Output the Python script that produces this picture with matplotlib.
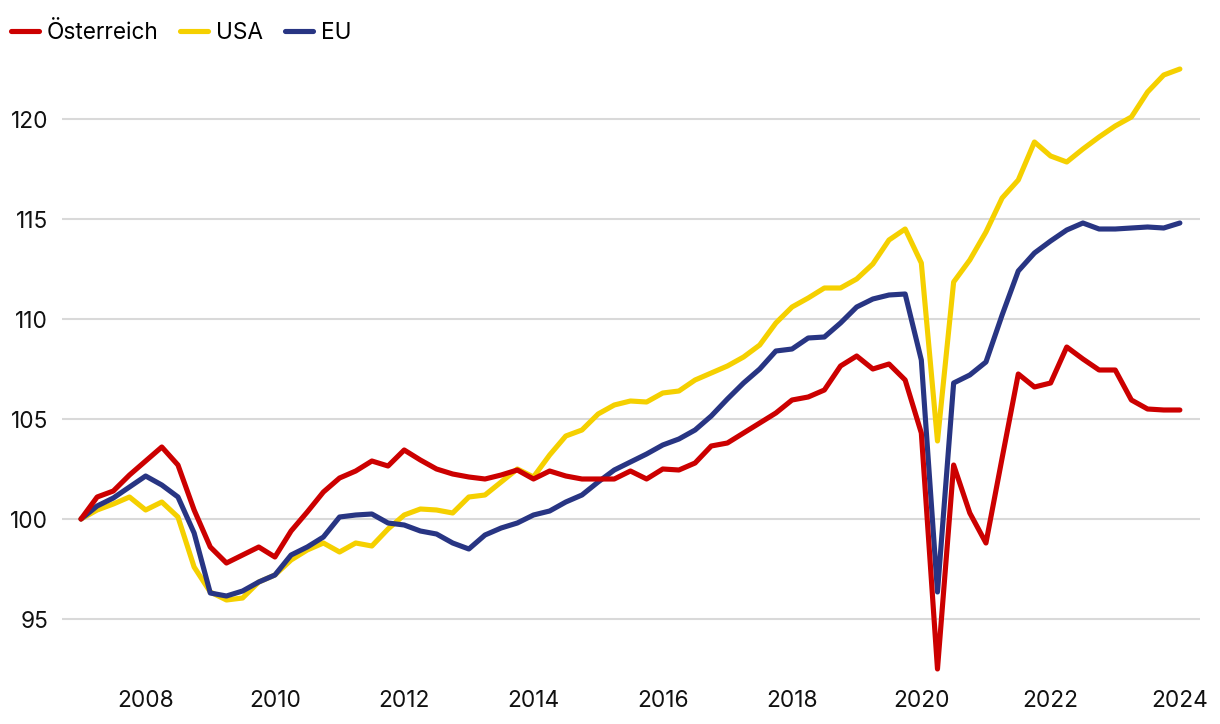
import matplotlib
matplotlib.use("Agg")
import matplotlib.pyplot as plt
import numpy as np

plt.rcParams['font.family'] = ['Inter', 'DejaVu Sans']

# quarterly data 2007Q1 .. 2024Q1
start_year = 2007
labels = ["Österreich", "USA", "EU"]
colors = ["#CC0000", "#F5D000", "#283583"]

austria = [100.0, 101.1, 101.4, 102.2, 102.9, 103.6, 102.7, 100.45, 98.6, 97.8,
           98.2, 98.6, 98.1, 99.4, 100.35, 101.35, 102.05, 102.4, 102.9, 102.65,
           103.45, 102.95, 102.5, 102.25, 102.1, 102.0, 102.2, 102.45, 102.0, 102.4,
           102.15, 102.0, 102.0, 102.0, 102.4, 102.0, 102.5, 102.45, 102.8, 103.65,
           103.8, 104.3, 104.8, 105.3, 105.95, 106.1, 106.45, 107.65, 108.15, 107.5,
           107.75, 106.95, 104.3, 92.5, 102.7, 100.3, 98.8, 103.05, 107.25, 106.6,
           106.8, 108.6, 108.0, 107.45, 107.45, 105.95, 105.5, 105.45, 105.45]

usa = [100.0, 100.45, 100.75, 101.1, 100.45, 100.85, 100.1, 97.6, 96.35, 95.95,
       96.05, 96.85, 97.2, 97.95, 98.45, 98.8, 98.35, 98.8, 98.65, 99.5,
       100.2, 100.5, 100.45, 100.3, 101.1, 101.2, 101.85, 102.5, 102.1, 103.2,
       104.15, 104.45, 105.25, 105.7, 105.9, 105.85, 106.3, 106.4, 106.95, 107.3,
       107.65, 108.1, 108.7, 109.8, 110.6, 111.05, 111.55, 111.55, 112.0, 112.75,
       113.95, 114.5, 112.8, 103.9, 111.85, 112.95, 114.35, 116.05, 116.95, 118.85,
       118.15, 117.85, 118.5, 119.1, 119.65, 120.1, 121.35, 122.2, 122.5]

eu = [100.0, 100.65, 101.05, 101.6, 102.15, 101.7, 101.1, 99.3, 96.3, 96.15,
      96.4, 96.85, 97.2, 98.2, 98.6, 99.1, 100.1, 100.2, 100.25, 99.8,
      99.7, 99.4, 99.25, 98.8, 98.5, 99.2, 99.55, 99.8, 100.2, 100.4,
      100.85, 101.2, 101.85, 102.45, 102.85, 103.25, 103.7, 104.0, 104.45, 105.15,
      106.0, 106.8, 107.5, 108.4, 108.5, 109.05, 109.1, 109.8, 110.6, 111.0,
      111.2, 111.25, 107.95, 96.35, 106.8, 107.2, 107.85, 110.2, 112.4, 113.3,
      113.9, 114.45, 114.8, 114.5, 114.5, 114.55, 114.6, 114.55, 114.8]

x_ticks = [2008, 2010, 2012, 2014, 2016, 2018, 2020, 2022, 2024]
y_ticks = [95, 100, 105, 110, 115, 120]

W, H = 1220, 724
fig = plt.figure(figsize=(W / 100, H / 100), dpi=100)
ax_l, ax_r, ax_t, ax_b = 62, 1200, 60, 680
ax = fig.add_axes([ax_l / W, 1 - ax_b / H, (ax_r - ax_l) / W, (ax_b - ax_t) / H])

series = [austria, usa, eu]
x = start_year + np.arange(len(austria)) / 4.0
zorders = [4, 2, 3]
for s, c, lab, z in zip(series, colors, labels, zorders):
    ax.plot(x, s, color=c, lw=3.7, label=lab, solid_joinstyle='round',
            solid_capstyle='round', zorder=z)

px_per_year = 64.64
x0 = 2007 - (81 - ax_l) / px_per_year
x1 = 2007 + (ax_r - 81) / px_per_year
ax.set_xlim(x0, x1)
ax.set_ylim(100 - (ax_b - 519) / 20, 100 + (519 - ax_t) / 20)

fs = 16.3
ax.set_xticks(x_ticks)
ax.set_xticklabels([str(t) for t in x_ticks])
ax.set_yticks(y_ticks)
ax.set_yticklabels([str(t) for t in y_ticks])
ax.tick_params(axis='both', length=0, labelsize=fs, colors='#111111')
ax.tick_params(axis='x', pad=7)
ax.tick_params(axis='y', pad=10)
ax.grid(axis='y', color='#D9D9D9', lw=1.5, zorder=0)
ax.set_axisbelow(True)
for sp in ax.spines.values():
    sp.set_visible(False)

handles, labs = ax.get_legend_handles_labels()
fig.legend(handles, labs, loc='upper left', bbox_to_anchor=(-0.0024, 0.989),
           ncol=3, frameon=False, fontsize=fs, handlelength=1.25,
           handletextpad=0.35, columnspacing=0.95, borderaxespad=0.2)

fig.savefig("out.png", dpi=100, facecolor='white')
